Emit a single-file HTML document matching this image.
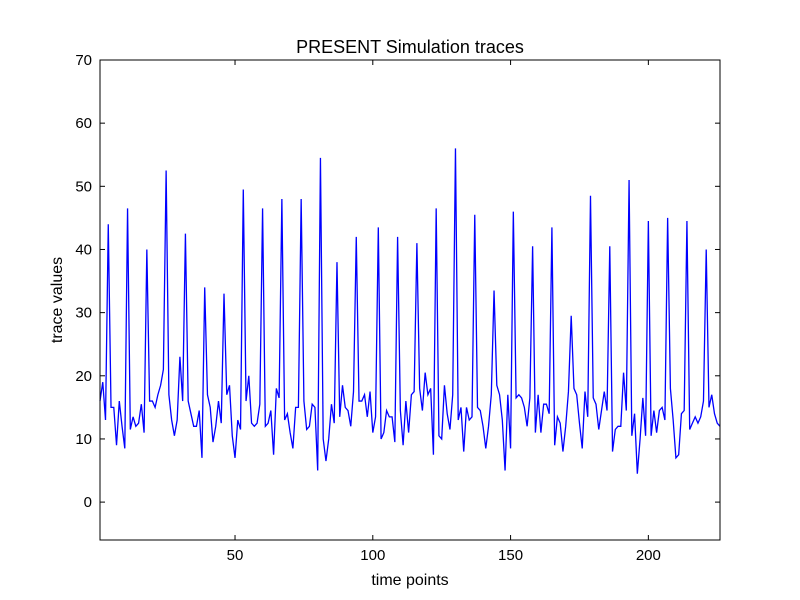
<!DOCTYPE html>
<html><head><meta charset="utf-8"><style>
html,body{margin:0;padding:0;background:#fff;}
svg{display:block;font-family:"Liberation Sans","DejaVu Sans",sans-serif;}
</style></head><body>
<svg id="chart" width="800" height="600"></svg>
<script>
const values = [16,19,13,44,15,15,9,16,12,8.5,46.5,11.5,13.5,12,12.5,15.5,11,40,16,16,15,17,18.5,21,52.5,17,13,10.5,13,23,16,42.5,16,14,12,12,14.5,7,34,17,15,9.5,12,16,12.5,33,17,18.5,10.5,7,13,11.5,49.5,16,20,12.5,12,12.5,15.5,46.5,12,12.5,14.5,7.5,18,16.5,48,13,14,11,8.5,15,15,48,16,11.5,12,15.5,15,5,54.5,10,6.5,10,15.5,12.5,38,13.5,18.5,15,14.5,12,17.5,42,16,16,17,13.5,17.5,11,13.5,43.5,10,11,14.5,13.5,13.5,9.5,42,14.5,9,16,11,17,17.5,41,18,14.5,20.5,17,18,7.5,46.5,10.5,10,18.5,14,11.5,17,56,13,15,8,15,13,13.5,45.5,15,14.5,12,8.5,12,17,33.5,18.5,17,13,5,17,8.5,46,16.5,17,16.5,15,12,16.5,40.5,11,17,11,15.5,15.5,14,43.5,9,13.5,12.5,8,12,17.5,29.5,18,17,12.5,8.5,17.5,13.5,48.5,16.5,15.5,11.5,14.5,17.5,14.5,40.5,8,11.5,12,12,20.5,14.5,51,10.5,14,4.5,10,16.5,10.5,44.5,10.5,14.5,11,14.5,15,13,45,18,13,7,7.5,14,14.5,44.5,11.5,12.5,13.5,12.5,13.5,16,40,15,17,14,12.5,12];
const xTicks = [50,100,150,200];
const yTicks = [0,10,20,30,40,50,60,70];
const xDomain = [1,226];
const yDomain = [-6,70];

const L=100,R=720,T=60,B=540;
const sx=v=>L+(v-xDomain[0])/(xDomain[1]-xDomain[0])*(R-L);
const sy=v=>B-(v-yDomain[0])/(yDomain[1]-yDomain[0])*(B-T);
const svg=document.getElementById('chart');
const NS='http://www.w3.org/2000/svg';
function mk(tag,attrs,parent){const e=document.createElementNS(NS,tag);for(const k in attrs)e.setAttribute(k,attrs[k]);(parent||svg).appendChild(e);return e;}

const pts=values.map((v,i)=>sx(i+1).toFixed(2)+','+sy(v).toFixed(2)).join(' ');
const line=mk('polyline',{points:pts,fill:'none',stroke:'#0000ff','stroke-width':1.3,'stroke-linejoin':'miter'});



const frame=mk('rect',{x:L,y:T,width:R-L,height:B-T,fill:'none',stroke:'#000','stroke-width':1});



xTicks.forEach(t=>{
  const x=sx(t);
  mk('line',{x1:x,x2:x,y1:B,y2:B-5,stroke:'#000'});
  mk('line',{x1:x,x2:x,y1:T,y2:T+5,stroke:'#000'});
  const tx=mk('text',{x:x,y:B+20,'text-anchor':'middle','font-size':15});
  tx.textContent=t;
  
  
});
yTicks.forEach(t=>{
  const y=sy(t);
  mk('line',{x1:L,x2:L+5,y1:y,y2:y,stroke:'#000'});
  mk('line',{x1:R,x2:R-5,y1:y,y2:y,stroke:'#000'});
  const ty=mk('text',{x:L-8,y:y+5,'text-anchor':'end','font-size':15});
  ty.textContent=t;
  
  
});

const title=mk('text',{x:410,y:53,'text-anchor':'middle','font-size':18});
title.textContent='PRESENT Simulation traces';


const xl=mk('text',{x:410,y:585,'text-anchor':'middle','font-size':16});
xl.textContent='time points';


const yl=mk('text',{x:0,y:0,'text-anchor':'middle','font-size':16,transform:'translate(62,300) rotate(-90)'});
yl.textContent='trace values';


</script>
</body></html>
